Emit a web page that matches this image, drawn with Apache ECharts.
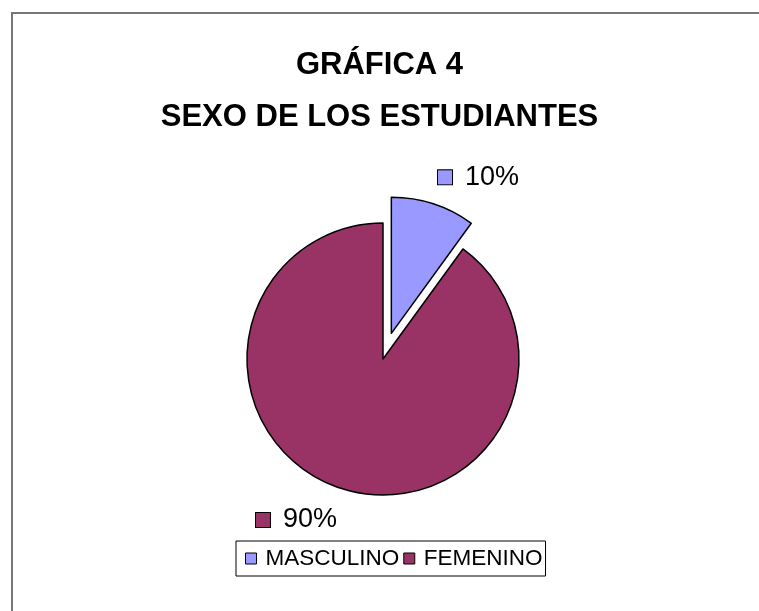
<!DOCTYPE html>
<html>
<head>
<meta charset="utf-8">
<script src="https://cdn.jsdelivr.net/npm/echarts@6/dist/echarts.min.js"></script>
<style>
  html, body { margin: 0; padding: 0; background: #fff; }
  #chart { width: 759px; height: 611px; }
</style>
</head>
<body>
<div id="chart"></div>
<script>
// data
const categories = ['MASCULINO', 'FEMENINO'];
const percentages = [10, 90];
const sliceColors = ['#9999FF', '#993366'];

const chart = echarts.init(document.getElementById('chart'));

// spot for the 90% label (left edge of key square, vertical middle);
// the exploded slice keeps the pie's own outside placement, tuned by its label line lengths
const femLabelSpot = [256, 520];

const option = {
  animation: false,
  backgroundColor: '#fff',
  textStyle: { fontFamily: 'Liberation Sans, Arial, sans-serif' },
  graphic: [{
    type: 'rect',
    shape: { x: 12, y: 13, width: 800, height: 700 },
    style: { fill: 'none', stroke: '#777', lineWidth: 2 },
    silent: true
  }],
  title: {
    text: 'GRÁFICA 4\nSEXO DE LOS ESTUDIANTES',
    left: 'center',
    top: 34,
    textStyle: {
      fontSize: 31,
      fontWeight: 'bold',
      color: '#000',
      lineHeight: 52,
      align: 'center'
    }
  },
  legend: {
    data: categories,
    left: 236,
    top: 541,
    orient: 'horizontal',
    icon: 'rect',
    itemWidth: 11,
    itemHeight: 11,
    itemGap: 4,
    padding: [6, 3, 6, 9],
    borderColor: '#000',
    borderWidth: 1,
    itemStyle: { borderColor: '#000', borderWidth: 1 },
    textStyle: { fontSize: 22.5, color: '#000', padding: [0, 0, 0, 4] },
    selectedMode: false
  },
  series: [{
    type: 'pie',
    center: [383, 359],
    radius: 136,
    startAngle: 90,
    clockwise: true,
    selectedMode: 'single',
    selectedOffset: 27,
    itemStyle: { borderColor: '#000', borderWidth: 1.5 },
    emphasis: { disabled: true },
    select: { itemStyle: { borderColor: '#000', borderWidth: 1.5 } },
    label: {
      show: true,
      position: 'outside',
      formatter: p => '{sq' + p.dataIndex + '|}{t|' + p.value + '%}',
      color: '#000',
      rich: {
        sq0: { width: 14, height: 14, backgroundColor: sliceColors[0], borderColor: '#000', borderWidth: 1 },
        sq1: { width: 14, height: 14, backgroundColor: sliceColors[1], borderColor: '#000', borderWidth: 1 },
        t: { fontSize: 27, color: '#000', padding: [0, 0, 0, 13] }
      }
    },
    labelLine: { show: false },
    labelLayout: p => p.dataIndex === 1 ? {
      x: femLabelSpot[0],
      y: femLabelSpot[1],
      align: 'left',
      verticalAlign: 'middle'
    } : {},
    data: categories.map((name, i) => ({
      name: name,
      value: percentages[i],
      selected: i === 0,
      itemStyle: { color: sliceColors[i] },
      labelLine: i === 0 ? { show: false, length: 28, length2: -9 } : { show: false }
    }))
  }]
};

chart.setOption(option);
</script>
</body>
</html>
